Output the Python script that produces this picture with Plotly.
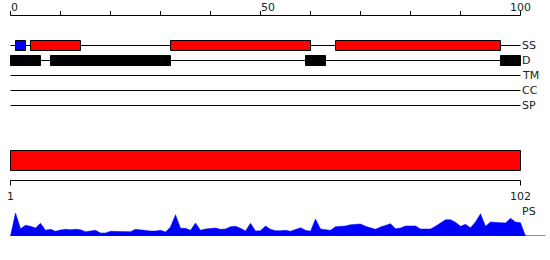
import plotly.graph_objects as go

# ---------------- data ----------------
seq_length = 102
top_tick_positions = [0, 10, 20, 30, 40, 50, 60, 70, 80, 90, 102]
top_tick_labels = {0: "0", 50: "50", 102: "100"}

track_names = ["SS", "D", "TM", "CC", "SP"]

strand_start = [1]
strand_end = [3]
helix_start = [4, 32, 65]
helix_end = [14, 60, 98]

disorder_start = [0, 8, 59, 98]
disorder_end = [6, 32, 63, 102]

domain_start = [0]
domain_end = [102]
ruler_labels = ["1", "102"]

profile_label = "PS"
profile_values = [
    23, 7.3, 10.7, 9.7, 8, 12.7, 5.7, 6.7, 4.7, 6,
    6.7, 6.3, 6.7, 6.3, 4.3, 5, 5.7, 3, 3, 4.7,
    4.7, 4.7, 4.3, 4.3, 6.7, 6, 5.3, 5, 5, 5.7,
    4, 9, 21.3, 7.7, 7.7, 5.7, 13, 5.7, 7, 7.7,
    8, 6.7, 7, 9.3, 9.7, 7.7, 5, 12.7, 5, 5.3,
    10, 6.7, 5.3, 5.3, 5.7, 4.7, 6.3, 8.3, 5.7, 4.7,
    17, 7, 6.3, 5.7, 9.3, 9.3, 10, 11.3, 11.7, 12,
    9.7, 8.3, 6.7, 9, 10.3, 12.3, 7.3, 8, 10, 10.3,
    10, 7, 6.7, 7, 9.7, 12.7, 16.3, 16.3, 13.7, 9.7,
    11.7, 8.3, 14, 22.3, 9.7, 14, 13.7, 13.3, 13, 17.7,
    14, 13.3,
]
residues = list(range(1, len(profile_values) + 1))

# ---------------- layout constants ----------------
W, H = 550, 260
FONT = dict(family="DejaVu Sans", size=11, color="#222")
axis_y = 15.5
track_y0 = 45.5
track_gap = 15
box_half = 5
dom_y0, dom_y1 = 150.5, 170.5
ruler_y = 180.5

shapes = []
annotations = []

# top axis
shapes.append(dict(type="line", xref="x", yref="y", x0=0, x1=seq_length,
                   y0=axis_y, y1=axis_y, line=dict(color="black", width=1)))
for t in top_tick_positions:
    shapes.append(dict(type="line", xref="x", yref="y", x0=t, x1=t,
                       y0=axis_y - 4.5, y1=axis_y, line=dict(color="black", width=1)))
    if t in top_tick_labels:
        anchor = "center" if t == seq_length else "left"
        annotations.append(dict(x=t, y=7, xref="x", yref="y", text=top_tick_labels[t],
                                showarrow=False, xanchor=anchor, yanchor="middle",
                                font=FONT, xshift=(0 if anchor == "center" else -2)))

# track lines and labels
for i, name in enumerate(track_names):
    y = track_y0 + i * track_gap
    shapes.append(dict(type="line", xref="x", yref="y", x0=0, x1=seq_length,
                       y0=y, y1=y, line=dict(color="black", width=1)))
    annotations.append(dict(x=seq_length, y=y, xref="x", yref="y", text=name,
                            showarrow=False, xanchor="left", yanchor="middle",
                            font=FONT, xshift=-1))

# secondary structure
ss_y = track_y0
for s, e in zip(strand_start, strand_end):
    shapes.append(dict(type="rect", xref="x", yref="y", x0=s, x1=e,
                       y0=ss_y - box_half, y1=ss_y + box_half,
                       fillcolor="#0000ff", line=dict(color="black", width=1)))
for s, e in zip(helix_start, helix_end):
    shapes.append(dict(type="rect", xref="x", yref="y", x0=s, x1=e,
                       y0=ss_y - box_half, y1=ss_y + box_half,
                       fillcolor="#ff0000", line=dict(color="black", width=1)))

# disorder
d_y = track_y0 + track_gap
for s, e in zip(disorder_start, disorder_end):
    shapes.append(dict(type="rect", xref="x", yref="y", x0=s, x1=e,
                       y0=d_y - box_half, y1=d_y + box_half,
                       fillcolor="black", line=dict(color="black", width=1)))

# domain bar
for s, e in zip(domain_start, domain_end):
    shapes.append(dict(type="rect", xref="x", yref="y", x0=s, x1=e,
                       y0=dom_y0, y1=dom_y1,
                       fillcolor="#ff0000", line=dict(color="black", width=1)))

# ruler
shapes.append(dict(type="line", xref="x", yref="y", x0=0, x1=seq_length,
                   y0=ruler_y, y1=ruler_y, line=dict(color="black", width=1)))
for xpos, lab in zip([0, seq_length], ruler_labels):
    shapes.append(dict(type="line", xref="x", yref="y", x0=xpos, x1=xpos,
                       y0=ruler_y, y1=ruler_y + 5, line=dict(color="black", width=1)))
    annotations.append(dict(x=xpos, y=196, xref="x", yref="y", text=lab,
                            showarrow=False, xanchor="center", yanchor="middle", font=FONT))

annotations.append(dict(x=seq_length, y=211, xref="x", yref="y", text=profile_label,
                        showarrow=False, xanchor="left", yanchor="middle", font=FONT, xshift=-1))

# profile baseline
shapes.append(dict(type="line", xref="x", yref="y2", x0=0, x1=107,
                   y0=0, y1=0, line=dict(color="#0000ff", width=1)))

fig = go.Figure()
fig.add_trace(go.Scatter(
    x=[0] + residues + [len(profile_values) + 1],
    y=[0] + profile_values + [0],
    mode="lines", fill="tozeroy", fillcolor="#0000ff",
    line=dict(color="#0000ff", width=0.5),
    xaxis="x", yaxis="y2", hoverinfo="skip",
))

base_py = 236.0
top_py = 206.0
fig.update_layout(
    width=W, height=H,
    margin=dict(l=0, r=0, t=0, b=0),
    paper_bgcolor="white", plot_bgcolor="white",
    showlegend=False,
    xaxis=dict(range=[-2.1, 107.9], visible=False, fixedrange=True),
    yaxis=dict(range=[H, 0], visible=False, fixedrange=True),
    yaxis2=dict(domain=[1 - base_py / H, 1 - top_py / H], range=[0, 30],
                visible=False, anchor="x", fixedrange=True),
    shapes=shapes,
    annotations=annotations,
)

fig.write_html("out.html")
